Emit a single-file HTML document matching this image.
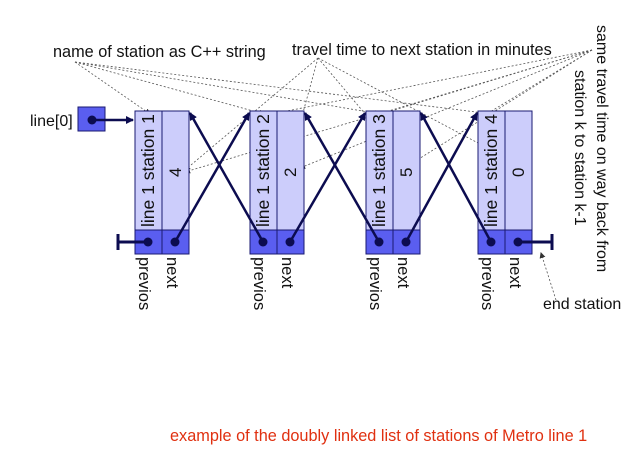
<!DOCTYPE html>
<html><head><meta charset="utf-8"><style>
body{margin:0;background:#fff}
svg text{font-family:"Liberation Sans",Arial,sans-serif;fill:#111}
</style></head><body>
<svg width="640" height="453" viewBox="0 0 640 453">
<defs>
<marker id="ah" markerWidth="8" markerHeight="8" refX="7" refY="4" orient="auto" markerUnits="userSpaceOnUse"><path d="M0,0L8,4L0,8z" fill="#0c0c50"/></marker>
<marker id="sh" markerWidth="6" markerHeight="6" refX="5" refY="3" orient="auto" markerUnits="userSpaceOnUse"><path d="M0,0L6,3L0,6z" fill="#333"/></marker>
</defs>
<g stroke="#555" stroke-width="0.8" stroke-dasharray="2,2" fill="none" marker-end="url(#sh)">
<line x1="75" y1="62" x2="150" y2="114"/><line x1="75" y1="62" x2="264" y2="114"/><line x1="75" y1="62" x2="380" y2="114"/><line x1="75" y1="62" x2="492" y2="114"/>
<line x1="318" y1="58" x2="290" y2="160"/><line x1="318" y1="58" x2="404" y2="160"/><line x1="318" y1="58" x2="510" y2="160"/><line x1="318" y1="58" x2="185" y2="170"/>
<line x1="592" y1="50" x2="185" y2="172"/><line x1="592" y1="50" x2="300" y2="168"/><line x1="592" y1="50" x2="414" y2="162"/><line x1="592" y1="50" x2="252" y2="118"/><line x1="592" y1="50" x2="368" y2="118"/><line x1="592" y1="50" x2="480" y2="118"/>
<line x1="556" y1="300" x2="541" y2="253"/>
</g>
<text x="53" y="57" font-size="16.3">name of station as C++ string</text>
<text x="292" y="55" font-size="16.3">travel time to next station in minutes</text>
<text transform="translate(597,25) rotate(90)" font-size="16">same travel time on way back from</text>
<text transform="translate(575,70) rotate(90)" font-size="16">station k to station k-1</text>
<text x="543" y="309" font-size="16">end station</text>
<g>
<rect x="78" y="107" width="27" height="24" fill="#5a5ef0" stroke="#1a1a70"/>
<circle cx="92" cy="120" r="4.5" fill="#0c0c50"/>
<line x1="92" y1="120" x2="133" y2="120" stroke="#0c0c50" stroke-width="2.5" marker-end="url(#ah)"/>
<text x="30" y="126" font-size="16">line[0]</text>
</g>
<g id="nodes"></g>
<text x="170" y="441" font-size="16.3" style="fill:#e03010">example of the doubly linked list of stations of Metro line 1</text>
</svg>
<script>
const stations=["line 1 station 1","line 1 station 2","line 1 station 3","line 1 station 4"];
const times=[4,2,5,0];
const xs=[135,250,366,478];
const g=document.getElementById('nodes');
const NS="http://www.w3.org/2000/svg";
function mk(t,a,p){const e=document.createElementNS(NS,t);for(const k in a)e.setAttribute(k,a[k]);(p||g).appendChild(e);return e;}
stations.forEach((s,i)=>{
 const x=xs[i];
 const n=mk('g',{});
 
 
 mk('rect',{x:x,y:111,width:54,height:119,fill:'#cccdfb',stroke:'#1a1a70'},n);
 mk('line',{x1:x+27,y1:111,x2:x+27,y2:254,stroke:'#1a1a70'},n);
 mk('rect',{x:x,y:230,width:54,height:24,fill:'#5a5ef0',stroke:'#1a1a70'},n);
 mk('line',{x1:x+27,y1:230,x2:x+27,y2:254,stroke:'#1a1a70'},n);
 const t1=mk('text',{transform:`translate(${x+19},227) rotate(-90)`,'font-size':17.5},n);t1.textContent=s;
 const t2=mk('text',{transform:`translate(${x+46},177) rotate(-90)`,'font-size':17},n);t2.textContent=times[i];
 const t3=mk('text',{transform:`translate(${x+4},257) rotate(90)`,'font-size':16.5},n);t3.textContent='previos';
 const t4=mk('text',{transform:`translate(${x+32},257) rotate(90)`,'font-size':16.5},n);t4.textContent='next';
 mk('circle',{cx:x+13,cy:242,r:4.5,fill:'#0c0c50'},n);
 mk('circle',{cx:x+40,cy:242,r:4.5,fill:'#0c0c50'},n);
});
for(let i=0;i<xs.length-1;i++){
 const a=mk('line',{x1:xs[i]+40,y1:242,x2:xs[i+1]-1,y2:113,stroke:'#0c0c50','stroke-width':2.5,'marker-end':'url(#ah)'});
 
 
 const b=mk('line',{x1:xs[i+1]+13,y1:242,x2:xs[i]+55,y2:113,stroke:'#0c0c50','stroke-width':2.5,'marker-end':'url(#ah)'});
 
 
}
const l=xs[0],r=xs[xs.length-1];
const e1=mk('path',{d:`M${l+13},242H118M118,234V250`,stroke:'#0c0c50','stroke-width':3,fill:'none'});


const e2=mk('path',{d:`M${r+40},242H552M552,234V250`,stroke:'#0c0c50','stroke-width':3,fill:'none'});


</script>
</body></html>
